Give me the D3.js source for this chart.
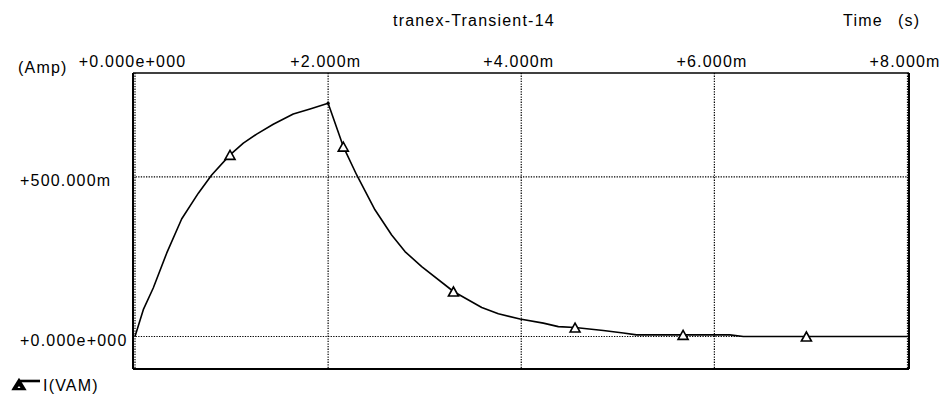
<!DOCTYPE html>
<html>
<head>
<meta charset="utf-8">
<script src="https://cdn.jsdelivr.net/npm/d3@7"></script>
<style>
  html, body { margin: 0; padding: 0; background: #fff; }
  svg { display: block; }
  text { font-family: "Liberation Sans", Arial, sans-serif; font-size: 16px; fill: #000; letter-spacing: 1.2px; }
</style>
</head>
<body>
<svg id="chart" width="940" height="397"></svg>
<script>
// ---- data (time in ms, current in A) ----
const timeMs = [0, 0.086, 0.189, 0.328, 0.483, 0.656, 0.794, 0.984, 1.122, 1.26, 1.432, 1.639, 1.813, 2.0,
  2.157, 2.296, 2.485, 2.658, 2.796, 2.969, 3.298, 3.591, 3.763, 3.987, 4.229, 4.384, 4.557, 4.85, 5.057,
  5.194, 6.16, 6.3, 8.0];
const current = [0, 0.084, 0.152, 0.261, 0.368, 0.449, 0.506, 0.569, 0.606, 0.634, 0.665, 0.697, 0.713, 0.731,
  0.595, 0.506, 0.397, 0.318, 0.266, 0.219, 0.141, 0.091, 0.071, 0.055, 0.042, 0.031, 0.028, 0.019, 0.011,
  0.005, 0.005, 0, 0];
const markerTimeMs = [0.984, 2.157, 3.298, 4.557, 5.676, 6.953];
const markerCurrent = [0.569, 0.595, 0.141, 0.028, 0.005, 0];
const xTicks = [0, 2, 4, 6, 8];
const xTickLabels = ["+0.000e+000", "+2.000m", "+4.000m", "+6.000m", "+8.000m"];
const yTicks = [0, 0.5];
const yTickLabels = ["+0.000e+000", "+500.000m"];
const title = "tranex-Transient-14";
const xUnit = ["Time", "(s)"];
const yUnit = "(Amp)";
const seriesName = "I(VAM)";

// ---- layout ----
const svg = d3.select("#chart");
const frame = { left: 133, right: 909, top: 73, bottom: 369 };
const x = d3.scaleLinear().domain([0, 8]).range([135, 907.5]);
const y = d3.scaleLinear().domain([-0.1018, 0.8255]).range([frame.bottom, frame.top]);

// grid lines
const grid = svg.append("g")
  .attr("stroke", "#000").attr("stroke-width", 1.2).attr("stroke-dasharray", "1.3,1.3").attr("fill", "none");
grid.selectAll("line.v").data(xTicks).join("line")
  .attr("class", "v")
  .attr("x1", d => x(d)).attr("x2", d => x(d))
  .attr("y1", frame.top).attr("y2", frame.bottom);
grid.selectAll("line.h").data(yTicks).join("line")
  .attr("class", "h")
  .attr("x1", frame.left).attr("x2", frame.right)
  .attr("y1", d => y(d)).attr("y2", d => y(d));

// frame
const fr = svg.append("g").attr("stroke", "#000").attr("fill", "none");
fr.append("line").attr("x1", frame.left).attr("x2", frame.right).attr("y1", frame.top).attr("y2", frame.top).attr("stroke-width", 1.4);
fr.append("line").attr("x1", frame.left).attr("x2", frame.right).attr("y1", frame.bottom).attr("y2", frame.bottom).attr("stroke-width", 2);
fr.append("line").attr("x1", frame.left).attr("x2", frame.left).attr("y1", frame.top).attr("y2", frame.bottom).attr("stroke-width", 2);
fr.append("line").attr("x1", frame.right).attr("x2", frame.right).attr("y1", frame.top).attr("y2", frame.bottom).attr("stroke-width", 2);

// axis labels
svg.append("g").selectAll("text").data(xTicks).join("text")
  .attr("x", d => x(d) - 2.4).attr("y", 67)
  .attr("text-anchor", "middle")
  .text((d, i) => xTickLabels[i]);
svg.append("g").selectAll("text").data(yTicks).join("text")
  .attr("x", 20).attr("y", d => y(d) + 9)
  .text((d, i) => yTickLabels[i]);

svg.append("text").attr("x", 18).attr("y", 73).text(yUnit);
svg.append("text").attr("x", 393).attr("y", 26).text(title);
svg.append("text").attr("x", 843).attr("y", 26).text(xUnit[0]);
svg.append("text").attr("x", 898).attr("y", 26).text(xUnit[1]);

// series line
const pts = timeMs.map((t, i) => [t, current[i]]);
const line = d3.line().x(d => x(d[0])).y(d => y(d[1]));
svg.append("path").datum(pts)
  .attr("d", line)
  .attr("fill", "none").attr("stroke", "#000").attr("stroke-width", 1.6).attr("stroke-linejoin", "round");

// peak dot
svg.append("circle").attr("cx", x(timeMs[13])).attr("cy", y(current[13])).attr("r", 1.6).attr("fill", "#000");

// markers
const tri = (cx, cy, w, h) => `M${cx - w / 2},${cy + h / 2}L${cx},${cy - h / 2}L${cx + w / 2},${cy + h / 2}Z`;
svg.append("g").selectAll("path").data(markerTimeMs).join("path")
  .attr("d", (t, i) => tri(x(t), y(markerCurrent[i]), 10, 9))
  .attr("fill", "#fff").attr("stroke", "#000").attr("stroke-width", 1.6).attr("stroke-linejoin", "miter");

// legend
svg.append("line").attr("x1", 20).attr("x2", 40).attr("y1", 381).attr("y2", 381)
  .attr("stroke", "#000").attr("stroke-width", 2.6);
svg.append("path").attr("d", tri(19, 384.5, 11, 9))
  .attr("fill", "#000").attr("stroke", "#000").attr("stroke-width", 2.4);
svg.append("path").attr("d", tri(19, 387, 3, 2)).attr("fill", "#fff");
svg.append("text").attr("x", 43).attr("y", 391).text(seriesName);
</script>
</body>
</html>
